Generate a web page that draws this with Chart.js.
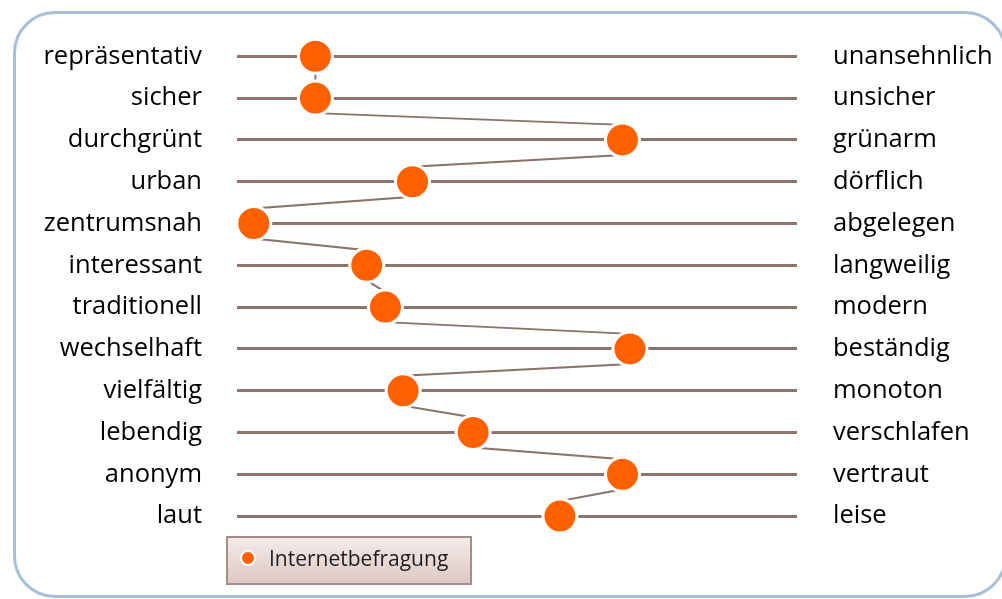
<!DOCTYPE html>
<html>
<head>
<meta charset="utf-8">
<script src="https://cdn.jsdelivr.net/npm/chart.js@4.4.1/dist/chart.umd.min.js"></script>
<style>
  html, body { margin: 0; padding: 0; background: #fff; }
  #frame {
    position: absolute; left: 13px; top: 11px; width: 988px; height: 581px;
    border: 3px solid #a8bfd8; border-radius: 42px;
  }
  #wrap { position: absolute; left: 0; top: 0; width: 1002px; height: 599px; }
</style>
</head>
<body>
<div id="frame"></div>
<div id="wrap"><canvas id="chart"></canvas></div>
<script>
// left / right poles of each item
const leftLabels = ['repräsentativ', 'sicher', 'durchgrünt', 'urban', 'zentrumsnah', 'interessant',
  'traditionell', 'wechselhaft', 'vielfältig', 'lebendig', 'anonym', 'laut'];
const rightLabels = ['unansehnlich', 'unsicher', 'grünarm', 'dörflich', 'abgelegen', 'langweilig',
  'modern', 'beständig', 'monoton', 'verschlafen', 'vertraut', 'leise'];
// mean rating on a 1..7 scale
const internetValues = [1.84, 1.84, 5.13, 2.88, 1.18, 2.39, 2.59, 5.21, 2.78, 3.53, 5.13, 4.46];
const seriesName = 'Internetbefragung';

const lineColor = '#8c746c';
const orange = '#ff6100';
const labelFont = { family: 'Open Sans', size: 25.5 };

// profile line runs from the bottom of one dot to the top of the next
const profilePoints = [];
internetValues.forEach((v, i) => {
  profilePoints.push({ x: v, y: i - 0.36 });
  profilePoints.push({ x: v, y: i + 0.36 });
});

const legendBox = {
  id: 'legendBox',
  afterDraw(chart) {
    const { ctx, chartArea } = chart;
    const x = 227, y = chartArea.bottom, w = 244, h = 47;
    ctx.save();
    const g = ctx.createLinearGradient(0, y, 0, y + h);
    g.addColorStop(0, '#f4ebe9');
    g.addColorStop(1, '#dcc8c3');
    ctx.fillStyle = g;
    ctx.fillRect(x, y, w, h);
    ctx.strokeStyle = '#a58e88';
    ctx.lineWidth = 2;
    ctx.strokeRect(x, y, w, h);
    ctx.beginPath();
    ctx.arc(x + 21, y + 21, 7, 0, Math.PI * 2);
    ctx.fillStyle = orange;
    ctx.fill();
    ctx.strokeStyle = '#fff';
    ctx.lineWidth = 2;
    ctx.stroke();
    ctx.fillStyle = '#1e1e1e';
    ctx.font = '21px "Open Sans"';
    ctx.textBaseline = 'middle';
    ctx.fillText(seriesName, x + 42, y + 23);
    ctx.restore();
  }
};

new Chart(document.getElementById('chart'), {
  type: 'scatter',
  data: {
    datasets: [
      {
        label: seriesName,
        data: internetValues.map((v, i) => ({ x: v, y: i })),
        pointRadius: 17,
        pointBackgroundColor: orange,
        pointBorderColor: '#fff',
        pointBorderWidth: 3,
        showLine: false,
        clip: false,
        order: 1
      },
      {
        label: 'profile',
        data: profilePoints,
        showLine: true,
        borderColor: lineColor,
        borderWidth: 2,
        pointRadius: 0,
        clip: false,
        order: 2
      }
    ]
  },
  options: {
    responsive: true,
    maintainAspectRatio: false,
    animation: false,
    layout: { padding: { top: 18, bottom: 62, left: 0, right: 0 } },
    plugins: { legend: { display: false }, tooltip: { enabled: false } },
    scales: {
      x: { type: 'linear', min: 1, max: 7, display: false },
      y: {
        type: 'linear', position: 'left', reverse: true, min: -0.12, max: 11.5,
        afterBuildTicks: axis => { axis.ticks = leftLabels.map((_, i) => ({ value: i })); },
        afterFit: axis => { axis.width = 237; },
        border: { display: false },
        grid: { color: lineColor, lineWidth: 3, drawTicks: false },
        ticks: {
          padding: 35, color: '#000', font: labelFont,
          callback: v => leftLabels[v]
        }
      },
      y2: {
        type: 'linear', position: 'right', reverse: true, min: -0.12, max: 11.5,
        afterBuildTicks: axis => { axis.ticks = rightLabels.map((_, i) => ({ value: i })); },
        afterFit: axis => { axis.width = 205; },
        border: { display: false },
        grid: { display: false, drawTicks: false },
        ticks: {
          padding: 36, color: '#000', font: labelFont,
          callback: v => rightLabels[v]
        }
      }
    }
  },
  plugins: [legendBox]
});
</script>
</body>
</html>
